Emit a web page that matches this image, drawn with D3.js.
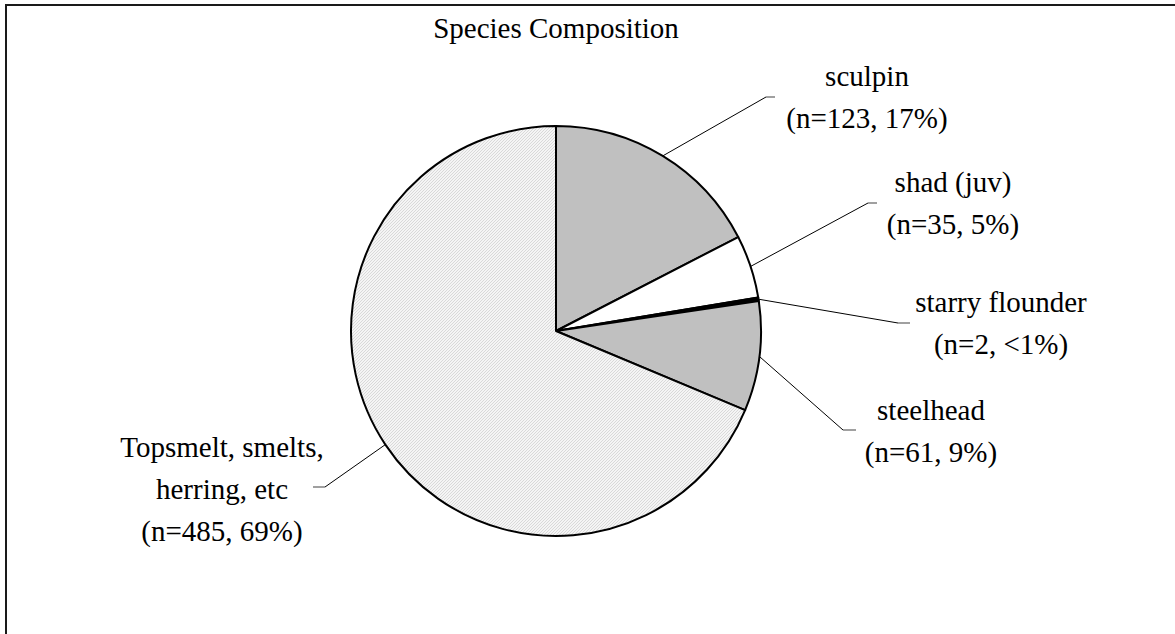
<!DOCTYPE html>
<html>
<head>
<meta charset="utf-8">
<script src="https://d3js.org/d3.v7.min.js"></script>
<style>
    body { margin: 0; background: #fff; }
    text { font-family: "Liberation Serif", "Times New Roman", serif; fill: #000; }
</style>
</head>
<body>
<div id="container"></div>
<script>
// data
let species = ["sculpin", "shad (juv)", "starry flounder", "steelhead", "Topsmelt, smelts, herring, etc"];
let counts = [123, 35, 2, 61, 485];
let labelLines = [
    ["sculpin", "(n=123, 17%)"],
    ["shad (juv)", "(n=35, 5%)"],
    ["starry flounder", "(n=2, <1%)"],
    ["steelhead", "(n=61, 9%)"],
    ["Topsmelt, smelts,", "herring, etc", "(n=485, 69%)"]
];
let title = "Species Composition";

/*
 layout only: where labels sit and where the leader bends
 */
let w = 1175, h = 634;
let cx = 556, cy = 331, r = 205;
let fontSize = 29;
let lineGap = 42;
let labelPos = [
    {x: 867, y: 86, elbow: [766, 97], tick: 9},
    {x: 953, y: 192, elbow: [868, 203], tick: 9},
    {x: 1001, y: 312, elbow: [898, 323], tick: 12},
    {x: 931, y: 420, elbow: [843, 430], tick: 13},
    {x: 222, y: 457, elbow: [325, 487], tick: -12}
];
let fills = ["#c0c0c0", "#ffffff", "#000000", "#c0c0c0", "url(#dots)"];

let svg = d3.select("div#container").append("svg")
    .attr("width", w).attr("height", h)
    .attr("viewBox", "0 0 " + w + " " + h);

// fine halftone fill for the big slice
let pat = svg.append("defs").append("pattern")
    .attr("id", "dots")
    .attr("patternUnits", "userSpaceOnUse")
    .attr("width", 3).attr("height", 3);
pat.append("rect").attr("width", 3).attr("height", 3).attr("fill", "#f5f5f5");
pat.append("path").attr("d", "M0,3 L3,0").attr("stroke", "#d2d2d2").attr("stroke-width", 0.8);

// frame (runs off the right and bottom edge like the original)
svg.append("rect")
    .attr("x", 6).attr("y", 5)
    .attr("width", 1300).attr("height", 800)
    .attr("fill", "none")
    .attr("stroke", "#1a1a1a")
    .attr("stroke-width", 2);

svg.append("text")
    .attr("x", cx).attr("y", 38)
    .attr("text-anchor", "middle")
    .style("font-size", fontSize + "px")
    .text(title);

let pie = d3.pie().sort(null).value(d => d);
let arcs = pie(counts);
let arc = d3.arc().innerRadius(0).outerRadius(r);

let g = svg.append("g").attr("transform", "translate(" + cx + "," + cy + ")");

g.selectAll("path.slice")
    .data(arcs)
    .enter()
    .append("path")
    .attr("class", "slice")
    .attr("d", arc)
    .attr("fill", (d, i) => fills[i])
    .attr("stroke", "#000")
    .attr("stroke-width", 2)
    .attr("stroke-linejoin", "round");

// leader lines: start on the rim at the slice's mid angle
arcs.forEach((d, i) => {
    let a = (d.startAngle + d.endAngle) / 2;
    let sx = cx + r * Math.sin(a), sy = cy - r * Math.cos(a);
    let p = labelPos[i];
    svg.append("line")
        .attr("x1", sx).attr("y1", sy)
        .attr("x2", p.elbow[0]).attr("y2", p.elbow[1])
        .attr("stroke", "#000").attr("stroke-width", 1);
    svg.append("line")
        .attr("x1", p.elbow[0]).attr("y1", p.elbow[1])
        .attr("x2", p.elbow[0] + p.tick).attr("y2", p.elbow[1])
        .attr("stroke", "#808080").attr("stroke-width", 1.5);
});

// labels
labelLines.forEach((lines, i) => {
    let t = svg.append("text")
        .attr("text-anchor", "middle")
        .style("font-size", fontSize + "px");
    lines.forEach((s, k) => {
        t.append("tspan")
            .attr("x", labelPos[i].x)
            .attr("y", labelPos[i].y + k * lineGap)
            .text(s);
    });
});
</script>
</body>
</html>
